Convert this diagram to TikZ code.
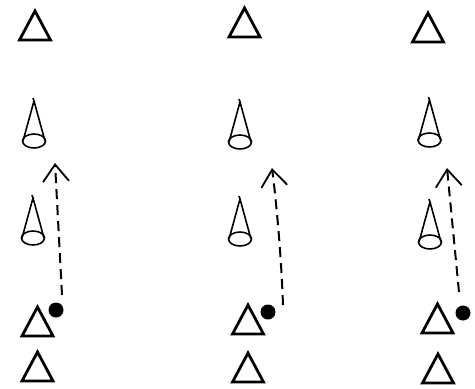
\documentclass[tikz,border=0pt]{standalone}
\usetikzlibrary{arrows.meta}
\begin{document}
\begin{tikzpicture}[x=1pt,y=-1pt,
  tri/.style={line width=2.8pt,line join=miter},
  conestyle/.style={line width=1.6pt,line join=round},
  move/.style={line width=2pt,dash pattern=on 10pt off 6pt,
    -{Straight Barb[length=17pt,width=26pt,line width=1.8pt]}},
  ball/.style={circle,fill=black,inner sep=0pt,minimum size=15pt},
  pics/triangle/.style={code={\draw[tri] (0,-15) -- (15.5,14) -- (-15.5,14) -- cycle;}},
  pics/cone/.style={code={
    \draw[conestyle] (-11,16) -- (0,-24) -- (11,16);
    \draw[conestyle] (0,-24) -- (-1,-27);
    \draw[conestyle] (0,16) ellipse [x radius=11.5,y radius=7];}}]
\useasboundingbox (0,0) rectangle (475,389);
% column 1
\pic at (35,26) {triangle};
\pic at (34,125) {cone};
\pic at (33,222) {cone};
\pic at (37.5,322) {triangle};
\pic at (37.5,367) {triangle};
\node[ball] (d1) at (56,310) {};
\coordinate (s1) at (62,295);
\coordinate (e1) at (55,163);
\draw[move] (s1) -- (e1);
% column 2
\pic at (244.5,23) {triangle};
\pic at (240,126) {cone};
\pic at (240,223) {cone};
\pic at (248,320) {triangle};
\pic at (248,368) {triangle};
\node[ball] (d2) at (268,312) {};
\coordinate (s2) at (283,305);
\coordinate (e2) at (272,168);
\draw[move] (s2) .. controls (281,250) and (276,200) .. (e2);
% column 3
\pic at (428,28) {triangle};
\pic at (429.5,124) {cone};
\pic at (430,226) {cone};
\pic at (437.5,319) {triangle};
\pic at (438,369) {triangle};
\node[ball] (d3) at (463,313) {};
\coordinate (s3) at (459,292);
\coordinate (e3) at (447,168);
\draw[move] (s3) -- (e3);
\end{tikzpicture}
\end{document}
